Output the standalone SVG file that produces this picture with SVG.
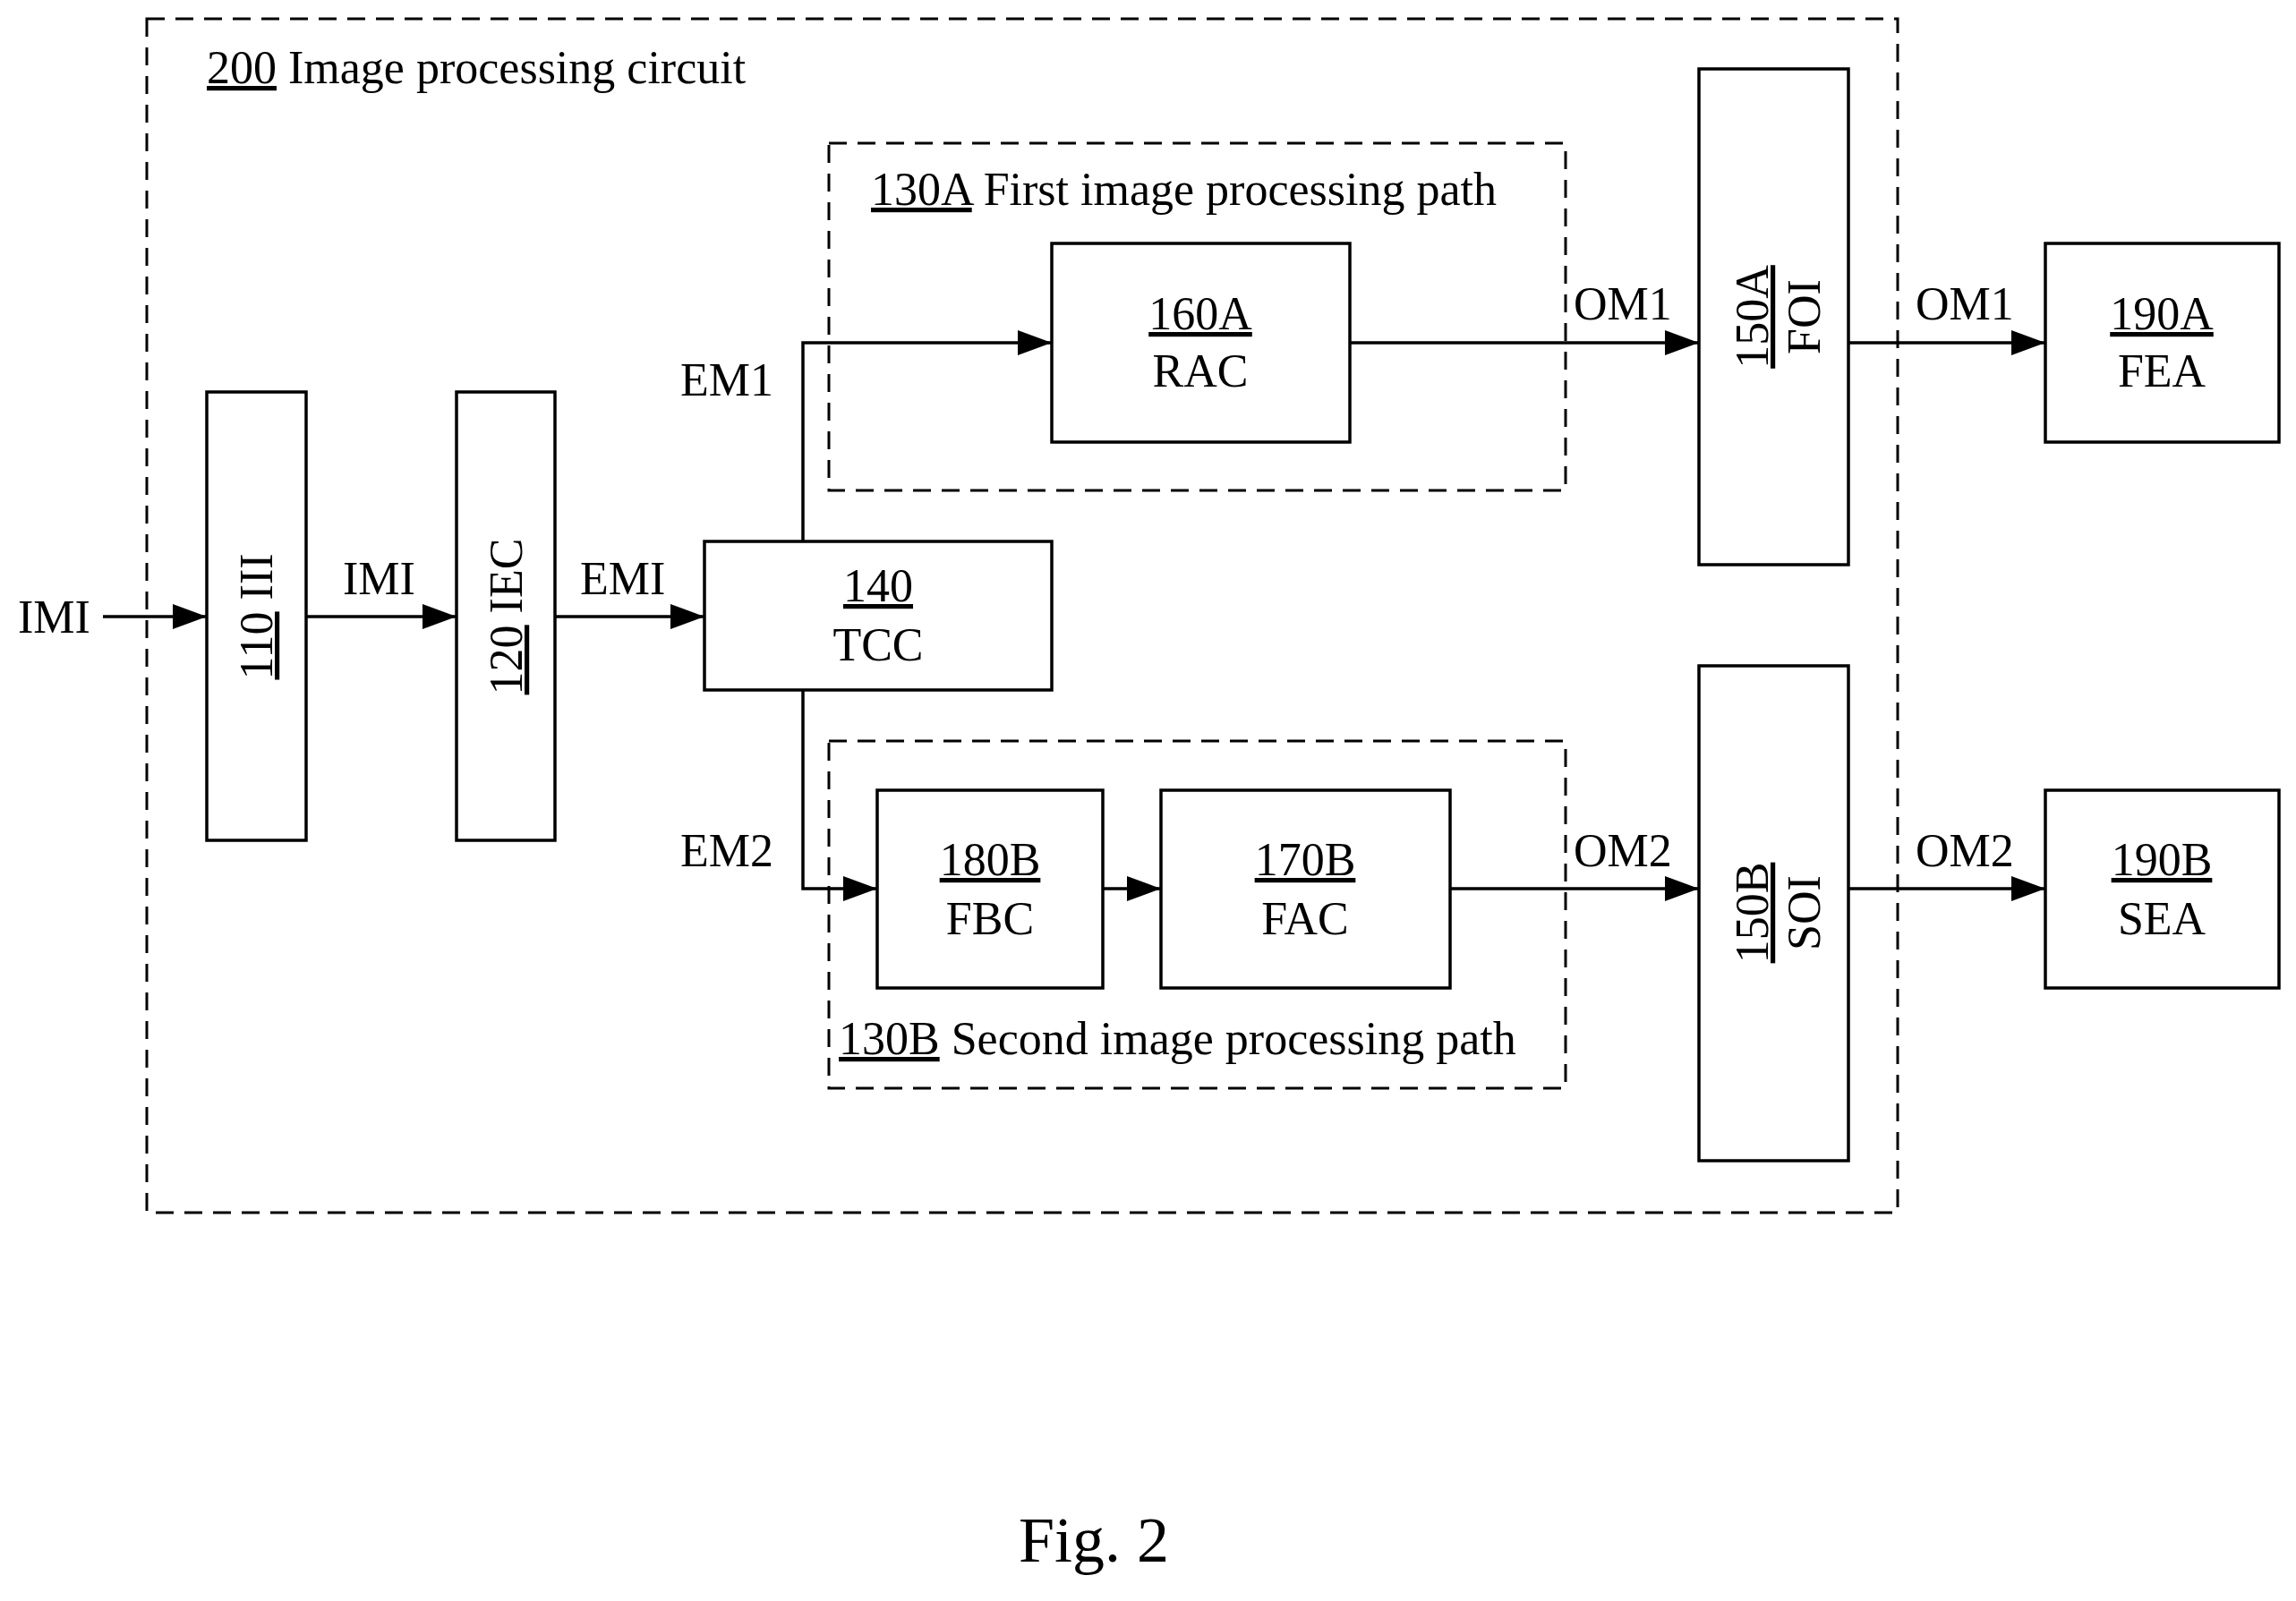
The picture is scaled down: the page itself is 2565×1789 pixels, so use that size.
<svg xmlns="http://www.w3.org/2000/svg" width="2565" height="1789" viewBox="0 0 2565 1789">
<style>
text{font-family:"Liberation Serif","Times New Roman",serif;font-size:52px;fill:#000}
.c{text-anchor:middle}
.u{text-decoration:underline}
.box{fill:#fff;stroke:#000;stroke-width:3.5}
.dash{fill:none;stroke:#000;stroke-width:3;stroke-dasharray:20,12}
.ln{fill:none;stroke:#000;stroke-width:3.5}
</style>
<defs><marker id="a" markerWidth="12" markerHeight="10" refX="12" refY="5" orient="auto" markerUnits="userSpaceOnUse" viewBox="0 0 12 10"><path d="M0,0L12,5L0,10z"/></marker>
<marker id="ar" markerWidth="38" markerHeight="28" refX="38" refY="14" orient="auto" markerUnits="userSpaceOnUse"><path d="M0,0L38,14L0,28z"/></marker></defs>
<rect width="2565" height="1789" fill="#fff"/>
<g id="g200"><rect class="dash" x="164" y="21" width="1956" height="1334"/><text x="231" y="93"><tspan class="u">200</tspan> Image processing circuit</text></g>
<g id="g130A"><rect class="dash" x="926" y="160" width="823" height="388"/><text x="973" y="229"><tspan class="u">130A</tspan> First image processing path</text></g>
<g id="g130B"><rect class="dash" x="926" y="828" width="823" height="388"/><text x="937" y="1178"><tspan class="u">130B</tspan> Second image processing path</text></g>
<g id="connectors">
<path class="ln" d="M115,689H231" marker-end="url(#ar)"/>
<path class="ln" d="M342,689H510" marker-end="url(#ar)"/>
<path class="ln" d="M620,689H787" marker-end="url(#ar)"/>
<path class="ln" d="M897,605V383H1175" marker-end="url(#ar)"/>
<path class="ln" d="M897,771V993H980" marker-end="url(#ar)"/>
<path class="ln" d="M1232,993H1297" marker-end="url(#ar)"/>
<path class="ln" d="M1508,383H1898" marker-end="url(#ar)"/>
<path class="ln" d="M1620,993H1898" marker-end="url(#ar)"/>
<path class="ln" d="M2065,383H2285" marker-end="url(#ar)"/>
<path class="ln" d="M2065,993H2285" marker-end="url(#ar)"/>
<text x="20" y="707">IMI</text>
<text x="383" y="664">IMI</text>
<text x="648" y="664">EMI</text>
<text x="760" y="442">EM1</text>
<text x="760" y="968">EM2</text>
<text x="1758" y="357">OM1</text>
<text x="2140" y="357">OM1</text>
<text x="1758" y="968">OM2</text>
<text x="2140" y="968">OM2</text>
</g>
<g id="n110"><rect class="box" x="231" y="438" width="111" height="501"/><text class="c" transform="translate(304,689) rotate(-90)"><tspan class="u">110</tspan> III</text></g>
<g id="n120"><rect class="box" x="510" y="438" width="110" height="501"/><text class="c" transform="translate(583,689) rotate(-90)"><tspan class="u">120</tspan> IEC</text></g>
<g id="n140"><rect class="box" x="787" y="605" width="388" height="166"/><text class="c u" x="981" y="672">140</text><text class="c" x="981" y="738">TCC</text></g>
<g id="n160A"><rect class="box" x="1175" y="272" width="333" height="222"/><text class="c u" x="1341" y="368">160A</text><text class="c" x="1341" y="432">RAC</text></g>
<g id="n180B"><rect class="box" x="980" y="883" width="252" height="221"/><text class="c u" x="1106" y="978">180B</text><text class="c" x="1106" y="1044">FBC</text></g>
<g id="n170B"><rect class="box" x="1297" y="883" width="323" height="221"/><text class="c u" x="1458" y="978">170B</text><text class="c" x="1458" y="1044">FAC</text></g>
<g id="n150A"><rect class="box" x="1898" y="77" width="167" height="554"/><text class="c" transform="translate(1981,354) rotate(-90)"><tspan class="u" x="0" y="-6">150A</tspan><tspan x="0" y="52">FOI</tspan></text></g>
<g id="n150B"><rect class="box" x="1898" y="744" width="167" height="553"/><text class="c" transform="translate(1981,1020) rotate(-90)"><tspan class="u" x="0" y="-6">150B</tspan><tspan x="0" y="52">SOI</tspan></text></g>
<g id="n190A"><rect class="box" x="2285" y="272" width="261" height="222"/><text class="c u" x="2415" y="368">190A</text><text class="c" x="2415" y="432">FEA</text></g>
<g id="n190B"><rect class="box" x="2285" y="883" width="261" height="221"/><text class="c u" x="2415" y="978">190B</text><text class="c" x="2415" y="1044">SEA</text></g>
<text class="c" x="1222" y="1745" style="font-size:72px">Fig. 2</text>
</svg>
